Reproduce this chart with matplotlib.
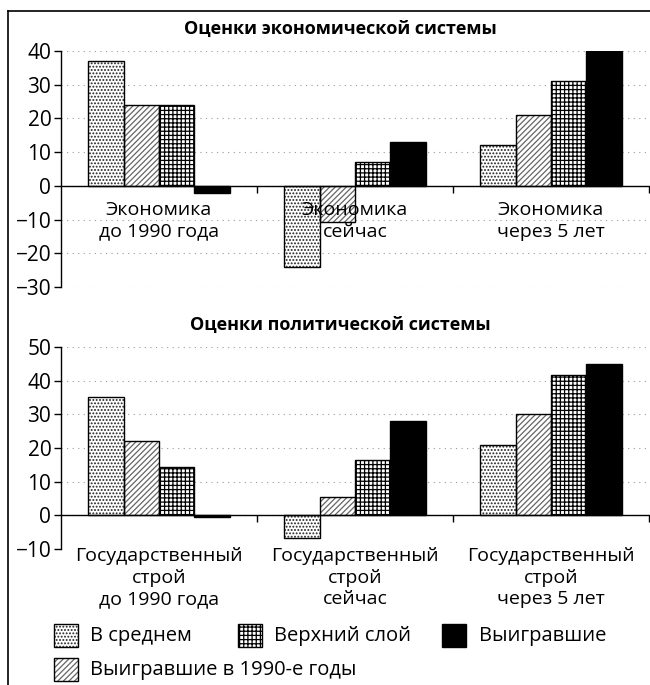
import matplotlib
matplotlib.use("Agg")
import matplotlib.pyplot as plt
from matplotlib.patches import Rectangle
from matplotlib.lines import Line2D
import numpy as np

plt.rcParams['font.family'] = ['Open Sans', 'DejaVu Sans']
plt.rcParams['hatch.linewidth'] = 0.9
plt.rcParams['axes.unicode_minus'] = True

series = ["В среднем", "Выигравшие в 1990-е годы", "Верхний слой", "Выигравшие"]
econ_categories = ["Экономика\nдо 1990 года", "Экономика\nсейчас", "Экономика\nчерез 5 лет"]
econ_values = {
    "В среднем": [37, -24, 12],
    "Выигравшие в 1990-е годы": [24, -10.7, 21],
    "Верхний слой": [24, 7, 31],
    "Выигравшие": [-2, 13, 40],
}
pol_categories = ["Государственный\nстрой\nдо 1990 года", "Государственный\nстрой\nсейчас",
                  "Государственный\nстрой\nчерез 5 лет"]
pol_values = {
    "В среднем": [35, -6.7, 21],
    "Выигравшие в 1990-е годы": [22, 5.4, 30],
    "Верхний слой": [14.3, 16.4, 41.6],
    "Выигравшие": [-0.5, 28, 45],
}
econ_yticks = [-30, -20, -10, 0, 10, 20, 30, 40]
pol_yticks = [-10, 0, 10, 20, 30, 40, 50]

styles = {
    "В среднем": dict(facecolor="white", hatch=".....", hatchedge="#222222"),
    "Выигравшие в 1990-е годы": dict(facecolor="white", hatch="//////", hatchedge="#666666"),
    "Верхний слой": dict(facecolor="white", hatch="++++", hatchedge="black"),
    "Выигравшие": dict(facecolor="black", hatch=None, hatchedge="black"),
}

W, H = 650, 685
fig = plt.figure(figsize=(6.5, 6.85), dpi=100)


def px_axes(left, right, top, bottom):
    return fig.add_axes([left / W, 1 - bottom / H, (right - left) / W, (bottom - top) / H])


def draw_panel(ax, cats, vals, yticks, title, label_pad, title_y):
    n = len(series)
    width = 0.18
    x = np.arange(len(cats))
    for t in yticks:
        ax.axhline(t, linestyle=(0, (1, 4)), color="#999999", linewidth=0.8, zorder=0.5)
    for i, s in enumerate(series):
        st = styles[s]
        pos = x + (i - (n - 1) / 2) * width
        ax.bar(pos, vals[s], width, color=st["facecolor"], hatch=st["hatch"],
               edgecolor=st["hatchedge"], linewidth=0, zorder=1)
        ax.bar(pos, vals[s], width, fill=False, edgecolor="black", linewidth=1.0, zorder=1.5)
    ax.set_xlim(-0.5, len(cats) - 0.5)
    ax.set_ylim(yticks[0], yticks[-1])
    ax.set_yticks(yticks)
    ax.set_yticklabels([("−" + str(-t)) if t < 0 else str(t) for t in yticks], fontsize=15)
    ax.grid(False)
    for sp in ["top", "right"]:
        ax.spines[sp].set_visible(False)
    ax.spines["bottom"].set_position(("data", 0))
    ax.spines["left"].set_linewidth(1.0)
    ax.spines["bottom"].set_linewidth(1.0)
    ax.set_xticks(np.arange(len(cats)) + 0.5)
    ax.set_xticklabels([])
    ax.tick_params(axis="x", which="major", direction="out", length=5, width=1)
    ax.set_xticks(x, minor=True)
    ax.set_xticklabels(cats, minor=True, fontsize=14, linespacing=1.25)
    ax.tick_params(axis="x", which="minor", length=0, pad=label_pad)
    ax.tick_params(axis="y", direction="out", length=5, width=1, pad=2)
    fig.text(340 / W, 1 - title_y / H, title, ha="center", va="center",
             fontsize=13, fontweight="bold")


ax1 = px_axes(61, 649, 51, 287)
draw_panel(ax1, econ_categories, econ_values, econ_yticks,
           "Оценки экономической системы", 11, 29)
ax2 = px_axes(61, 649, 347, 549)
draw_panel(ax2, pol_categories, pol_values, pol_yticks,
           "Оценки политической системы", 23, 325)

# legend (manual layout)
legend_pos = {
    "В среднем": (54, 624, 90),
    "Верхний слой": (238, 624, 274),
    "Выигравшие": (442, 624, 479),
    "Выигравшие в 1990-е годы": (54, 658, 90),
}
for s in series:
    px, py, tx = legend_pos[s]
    st = styles[s]
    r = Rectangle((px / W, 1 - (py + 23) / H), 24 / W, 23 / H, transform=fig.transFigure,
                  facecolor=st["facecolor"], hatch=st["hatch"], edgecolor=st["hatchedge"],
                  linewidth=0)
    fig.add_artist(r)
    r2 = Rectangle((px / W, 1 - (py + 23) / H), 24 / W, 23 / H, transform=fig.transFigure,
                   fill=False, edgecolor="black", linewidth=1.0)
    fig.add_artist(r2)
    fig.text(tx / W, 1 - (py + 12) / H, s, ha="left", va="center", fontsize=14.5)

# page frame (top and left edges)
fig.add_artist(Line2D([8 / W, 1], [1 - 11 / H, 1 - 11 / H], transform=fig.transFigure,
                      color="black", linewidth=1.2))
fig.add_artist(Line2D([8 / W, 8 / W], [1 - 11 / H, 0], transform=fig.transFigure,
                      color="black", linewidth=1.2))

fig.savefig("out.png", dpi=100)
